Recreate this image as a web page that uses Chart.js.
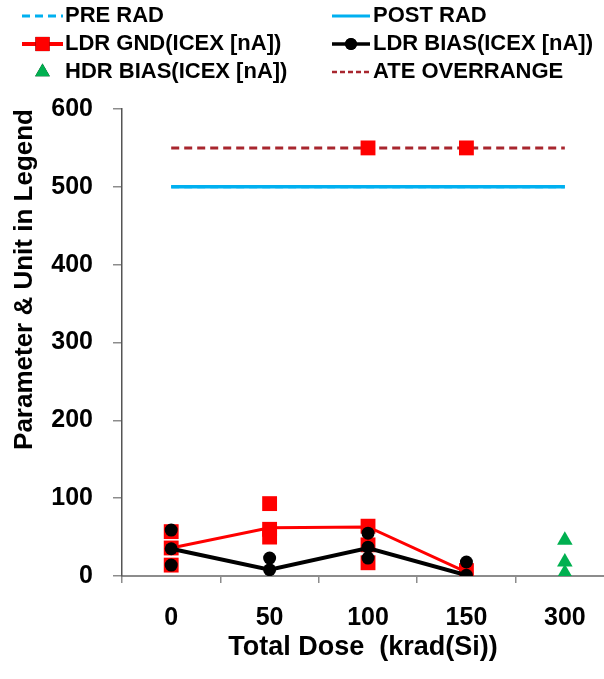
<!DOCTYPE html>
<html lang="en">
<head>
    <meta charset="UTF-8">
    <title>Total Dose</title>
    <script src="https://cdn.jsdelivr.net/npm/chart.js"></script>
    <style>
        body { margin: 0; background: #fff; }
    </style>
</head>
<body>

<canvas id="doseChart" width="604" height="679"></canvas>

<script>
    // dose categories (krad(Si)) - positions on the x axis are their index
    const doseLabels = ['0', '50', '100', '150', '300'];
    const doseIndex = [0, 1, 2, 3, 4];

    // reference limits
    const preRad = [500, 500, 500, 500, 500];
    const postRad = [500, 500, 500, 500, 500];
    const ateOverrange = [550, 550, 550, 550, 550];

    // mean lines
    const ldrGndMean = [36, 62, 63, 5, null];
    const ldrBiasMean = [35, 8, 36, 1, null];

    // single units at each dose
    const ldrGndUnits = [[57, 36, 14], [93, 60, 50], [550, 64, 40, 17], [550, 7], []];
    const ldrBiasUnits = [[59, 35, 14], [23, 8], [55, 37, 23], [18, 1], []];
    const hdrBiasUnits = [[], [], [], [], [46, 18, 4]];

    const FONT = "'Liberation Sans', Arial, sans-serif";
    const RED = '#ff0000';
    const BLUE = '#00b0f0';
    const GREEN = '#00b050';
    const DARKRED = '#a8262e';

    function toLine(values) {
        return values.map((y, i) => ({ x: doseIndex[i], y: y })).filter(p => p.y !== null);
    }
    function toPoints(groups) {
        const out = [];
        groups.forEach((g, i) => g.forEach(y => out.push({ x: doseIndex[i], y: y })));
        return out;
    }

    const datasets = [
        { label: 'PRE RAD', data: toLine(preRad), borderColor: BLUE, borderWidth: 3,
          borderDash: [8, 5], pointRadius: 0, order: 9 },
        { label: 'POST RAD', data: toLine(postRad), borderColor: BLUE, borderWidth: 3.5,
          pointRadius: 0, order: 8 },
        { label: 'ATE OVERRANGE', data: toLine(ateOverrange), borderColor: DARKRED, borderWidth: 3,
          borderDash: [8, 5], pointRadius: 0, order: 7 },
        { label: 'LDR GND units', data: toPoints(ldrGndUnits), showLine: false, pointStyle: 'rect',
          pointRadius: 10.5, pointBorderWidth: 0, backgroundColor: RED, borderColor: RED, order: 6 },
        { label: 'LDR GND(ICEX [nA])', data: toLine(ldrGndMean), borderColor: RED, borderWidth: 3,
          pointRadius: 0, order: 5 },
        { label: 'LDR BIAS units', data: toPoints(ldrBiasUnits), showLine: false, pointStyle: 'circle',
          pointRadius: 6.5, pointBorderWidth: 0, backgroundColor: '#000', borderColor: '#000', order: 4 },
        { label: 'LDR BIAS(ICEX [nA])', data: toLine(ldrBiasMean), borderColor: '#000', borderWidth: 4,
          pointRadius: 0, order: 3 },
        { label: 'HDR BIAS(ICEX [nA])', data: toPoints(hdrBiasUnits), showLine: false, pointStyle: 'triangle',
          pointRadius: 9, pointBorderWidth: 0, backgroundColor: GREEN, borderColor: GREEN, order: 2 }
    ];

    // two column legend like the original sheet
    const legendItems = [
        { text: 'PRE RAD', col: 0, row: 0, line: BLUE, width: 3, dash: [8, 5] },
        { text: 'POST RAD', col: 1, row: 0, line: BLUE, width: 3 },
        { text: 'LDR GND(ICEX [nA])', col: 0, row: 1, line: RED, width: 4, marker: 'rect', color: RED },
        { text: 'LDR BIAS(ICEX [nA])', col: 1, row: 1, line: '#000', width: 3.5, marker: 'circle', color: '#000' },
        { text: 'HDR BIAS(ICEX [nA])', col: 0, row: 2, marker: 'triangle', color: GREEN },
        { text: 'ATE OVERRANGE', col: 1, row: 2, line: DARKRED, width: 2.5, dash: [5, 3] }
    ];
    const legendCols = [{ x0: 22, x1: 63, text: 65 }, { x0: 332, x1: 370, text: 373 }];
    const legendRows = [16, 44, 72];

    const sheetLegend = {
        id: 'sheetLegend',
        afterDraw(chart) {
            const ctx = chart.ctx;
            ctx.save();
            legendItems.forEach(item => {
                const c = legendCols[item.col];
                const y = legendRows[item.row];
                if (item.line) {
                    ctx.beginPath();
                    ctx.setLineDash(item.dash || []);
                    ctx.strokeStyle = item.line;
                    ctx.lineWidth = item.width;
                    ctx.moveTo(c.x0, y);
                    ctx.lineTo(c.x1, y);
                    ctx.stroke();
                    ctx.setLineDash([]);
                }
                if (item.marker) {
                    const cx = (c.x0 + c.x1) / 2;
                    const r = item.marker === 'rect' ? 10 : item.marker === 'circle' ? 6 : 8.5;
                    Chart.helpers.drawPoint(ctx, {
                        pointStyle: item.marker, radius: r, borderWidth: 0, rotation: 0
                    }, cx, y);
                    ctx.fillStyle = item.color;
                    ctx.fill();
                }
                ctx.fillStyle = '#000';
                ctx.font = 'bold 22px ' + FONT;
                ctx.textAlign = 'left';
                ctx.textBaseline = 'middle';
                ctx.fillText(item.text, c.text, y);
            });
            ctx.restore();
        }
    };

    const ctx = document.getElementById('doseChart').getContext('2d');
    new Chart(ctx, {
        type: 'line',
        data: { datasets: datasets },
        plugins: [sheetLegend],
        options: {
            responsive: false,
            animation: false,
            layout: { autoPadding: false, padding: { top: 109, right: 0, bottom: 0, left: 0 } },
            plugins: {
                legend: { display: false },
                tooltip: { enabled: false }
            },
            scales: {
                x: {
                    type: 'linear',
                    min: -0.5,
                    max: 4.398,
                    afterBuildTicks: scale => {
                        scale.ticks = doseIndex.map(v => ({ value: v }));
                    },
                    afterFit: scale => {
                        scale.height = 103;
                        scale.paddingLeft = 0;
                        scale.paddingRight = 0;
                    },
                    ticks: {
                        callback: v => doseLabels[v],
                        color: '#000',
                        padding: 20,
                        maxRotation: 0,
                        font: { family: FONT, size: 25, weight: 'bold' }
                    },
                    grid: {
                        offset: true,
                        drawOnChartArea: false,
                        tickLength: 7,
                        color: '#8c8c8c',
                        lineWidth: 1.5
                    },
                    border: { color: '#8c8c8c', width: 2 },
                    title: {
                        display: true,
                        text: 'Total Dose  (krad(Si))',
                        color: '#000',
                        padding: { top: 0, bottom: 15 },
                        font: { family: FONT, size: 27, weight: 'bold' }
                    }
                },
                y: {
                    min: 0,
                    max: 600,
                    afterFit: scale => { scale.width = 122; },
                    ticks: {
                        stepSize: 100,
                        color: '#000',
                        padding: 20,
                        font: { family: FONT, size: 25, weight: 'bold' }
                    },
                    grid: {
                        drawOnChartArea: false,
                        tickLength: 9,
                        color: '#8c8c8c',
                        lineWidth: 1.5
                    },
                    border: { color: '#555', width: 1.5 },
                    title: {
                        display: true,
                        text: 'Parameter & Unit in Legend',
                        align: 'end',
                        color: '#000',
                        padding: { top: 9, bottom: 0 },
                        font: { family: FONT, size: 26, weight: 'bold' }
                    }
                }
            }
        }
    });
</script>

</body>
</html>
